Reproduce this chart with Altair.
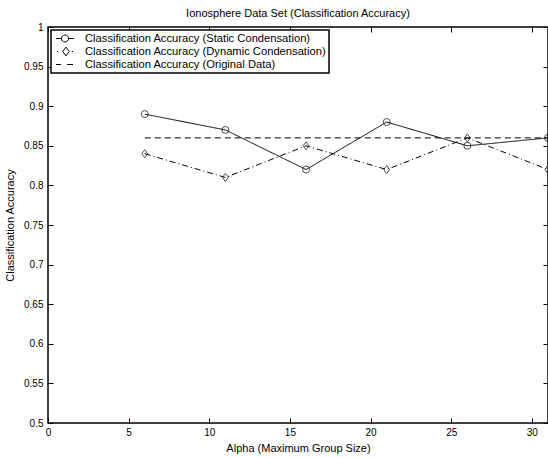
import altair as alt
import pandas as pd

# ---- data ----
alpha = [6, 11, 16, 21, 26, 31]
static_acc = [0.89, 0.87, 0.82, 0.88, 0.85, 0.86]
dynamic_acc = [0.84, 0.81, 0.85, 0.82, 0.86, 0.82]
original_acc = [0.86, 0.86, 0.86, 0.86, 0.86, 0.86]
series_names = [
    "Classification Accuracy (Static Condensation)",
    "Classification Accuracy (Dynamic Condensation)",
    "Classification Accuracy (Original Data)",
]
x_ticks = [0, 5, 10, 15, 20, 25, 30]
y_ticks = [0.5, 0.55, 0.6, 0.65, 0.7, 0.75, 0.8, 0.85, 0.9, 0.95, 1.0]

rows = []
for name, vals in zip(series_names, [static_acc, dynamic_acc, original_acc]):
    for a, v in zip(alpha, vals):
        rows.append({"alpha": a, "acc": v, "series": name})
df = pd.DataFrame(rows)
df_pts = df[df["series"] != series_names[2]]

W, H = 500, 396
FONT = "Liberation Sans"

xscale = alt.Scale(domain=[0, 31], nice=False, zero=False)
yscale = alt.Scale(domain=[0.5, 1.0], nice=False, zero=False)

def tick_axis(orient, offset, values):
    return alt.Axis(orient=orient, offset=offset, values=values, labels=False,
                    domain=False, ticks=True, tickSize=5, tickColor="black",
                    tickWidth=1, title=None, grid=False)

# line layer: carries the labelled axes
lines = alt.Chart(df).mark_line(color="black", strokeWidth=1).encode(
    x=alt.X("alpha:Q", scale=xscale,
            axis=alt.Axis(orient="bottom", values=x_ticks, title="Alpha (Maximum Group Size)",
                          ticks=False, tickSize=0, domain=False, grid=False,
                          labelPadding=4, titlePadding=5, labelFlush=False,
                          labelOverlap=False)),
    y=alt.Y("acc:Q", scale=yscale,
            axis=alt.Axis(orient="left", values=y_ticks, title="Classification Accuracy",
                          ticks=False, tickSize=0, domain=False, grid=False, format="~g",
                          labelPadding=5, titlePadding=8, labelFlush=False,
                          labelOverlap=False)),
    strokeDash=alt.StrokeDash("series:N",
                              scale=alt.Scale(domain=series_names,
                                              range=[[1, 0], [6, 3, 1, 3], [6, 4]]),
                              legend=None),
    order="alpha:Q",
)

# marker layer: inward ticks on the bottom and left edges
pts = alt.Chart(df_pts).mark_point(color="black", filled=False, strokeWidth=1, size=49).encode(
    x=alt.X("alpha:Q", scale=xscale, axis=tick_axis("top", -H, x_ticks)),
    y=alt.Y("acc:Q", scale=yscale, axis=tick_axis("right", -W, y_ticks)),
    shape=alt.Shape("series:N",
                    scale=alt.Scale(domain=series_names[:2],
                                    range=["circle", "M0,-1.15L0.85,0L0,1.15L-0.85,0Z"]),
                    legend=None),
)

# legend layer (invisible points) + inward ticks on top and right edges
legend_paths = [
    "M-1.64,0L-0.64,0M0.64,0L1.64,0M0.64,0A0.64,0.64,0,1,1,-0.64,0A0.64,0.64,0,1,1,0.64,0",
    "M-1.45,0L-1.27,0M1.27,0L1.45,0M0.18,-0.8L0.78,0L0.18,0.8L-0.42,0Z",
    "M-1.64,0L-0.73,0M0.36,0L1.45,0",
]
leg = alt.Chart(df).mark_point(color="black", filled=False, strokeWidth=1, opacity=0).encode(
    x=alt.X("alpha:Q", scale=xscale, axis=tick_axis("bottom", -H, x_ticks)),
    y=alt.Y("acc:Q", scale=yscale, axis=tick_axis("left", -W, y_ticks)),
    shape=alt.Shape("series:N",
                    scale=alt.Scale(domain=series_names, range=legend_paths),
                    legend=alt.Legend(title=None, orient="top-left", offset=3, padding=2.5,
                                      rowPadding=0, symbolSize=121, symbolOffset=5.5,
                                      labelOffset=14, labelFontSize=11.2, labelLimit=500,
                                      labelFont=FONT, labelColor="black",
                                      strokeColor="black", fillColor="white",
                                      symbolOpacity=1, symbolStrokeColor="black",
                                      symbolStrokeWidth=1, symbolFillColor="transparent")),
)

chart = alt.layer(lines, pts, leg).resolve_scale(
    shape="independent", strokeDash="independent"
).resolve_axis(
    x="independent", y="independent"
).properties(
    width=W, height=H,
    title=alt.Title("Ionosphere Data Set (Classification Accuracy)", anchor="middle",
                    font=FONT, fontSize=11, fontWeight="normal", color="black", offset=3),
    autosize="none",
    padding={"left": 48, "top": 27, "right": 0, "bottom": 35},
    background="white",
).configure_view(
    stroke="black", strokeWidth=1.5
).configure_axis(
    labelFont=FONT, titleFont=FONT, labelFontSize=10, titleFontSize=11,
    titleFontWeight="normal", labelColor="black", titleColor="black",
).configure_legend(
    strokeWidth=1.5
)

chart.save("out.html", embed_options={"renderer": "svg", "actions": False})
